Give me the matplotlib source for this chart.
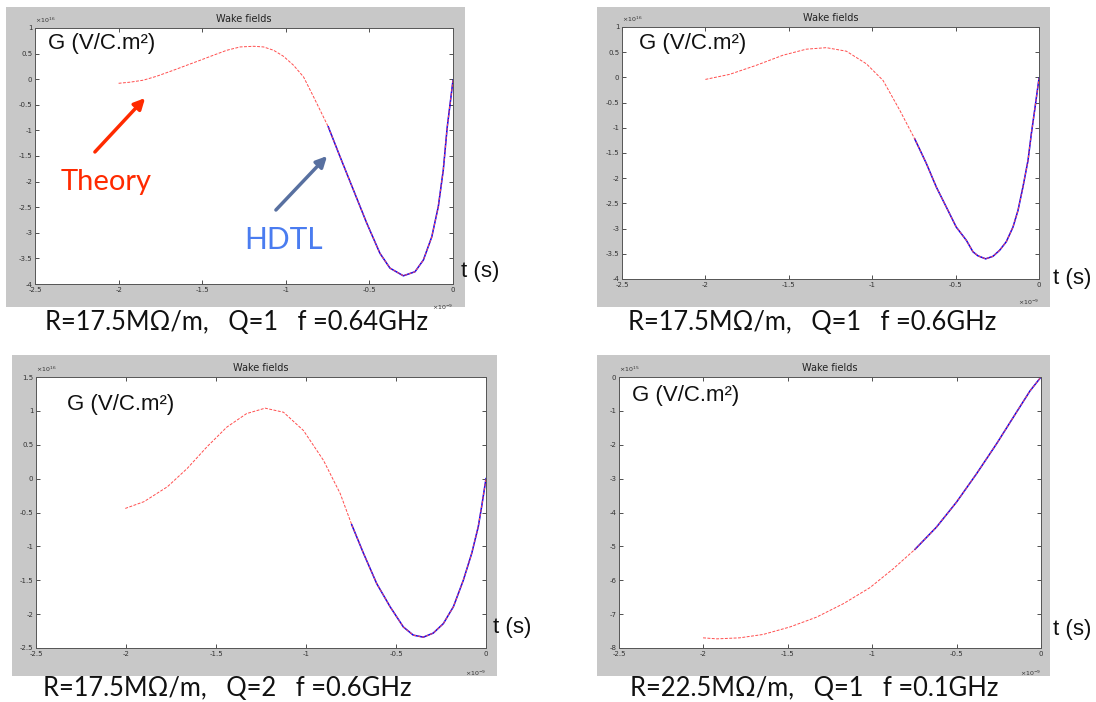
import numpy as np
import matplotlib
matplotlib.use("Agg")
import matplotlib.pyplot as plt
from matplotlib.patches import Rectangle, FancyArrowPatch

# Four MATLAB "Wake fields" screenshots: theory (red dashed) vs HDTL (blue).
# t is in units of 1e-9 s, G in units of 1e16 (1e15 for the last panel).

W, H = 1096, 702

# R=17.5MOhm/m, Q=1, f=0.64GHz
T1 = [-2.0, -1.931, -1.852, -1.772, -1.672, -1.592, -1.512, -1.433, -1.353, -1.273,
      -1.193, -1.133, -1.073, -1.014, -0.954, -0.894, -0.834, -0.746,
      -0.676, -0.596, -0.516, -0.437, -0.377, -0.297, -0.227, -0.177, -0.127,
      -0.088, -0.058, -0.035, -0.015, 0.0]
G1 = [-0.08, -0.058, -0.019, 0.058, 0.175, 0.273, 0.37, 0.468, 0.565, 0.63,
      0.643, 0.63, 0.565, 0.448, 0.273, 0.045, -0.344, -0.93,
      -1.51, -2.16, -2.81, -3.40, -3.69, -3.84, -3.76, -3.53, -3.08,
      -2.49, -1.77, -0.95, -0.42, -0.02]
HT1 = [-0.746, -0.676, -0.596, -0.516, -0.437, -0.377, -0.297, -0.227, -0.177, -0.127,
       -0.088, -0.058, -0.035, -0.015, 0.0]
HG1 = [-0.93, -1.51, -2.16, -2.81, -3.40, -3.69, -3.84, -3.76, -3.53, -3.08,
       -2.49, -1.77, -0.95, -0.42, -0.02]

# R=17.5MOhm/m, Q=1, f=0.6GHz
T2 = [-2.0, -1.855, -1.695, -1.535, -1.395, -1.275, -1.155, -1.035, -0.935, -0.835,
      -0.745, -0.675, -0.615, -0.556, -0.496, -0.436, -0.396, -0.366, -0.32, -0.276,
      -0.236, -0.196, -0.156, -0.126, -0.096, -0.066, -0.046, -0.026, 0.0]
G2 = [-0.04, 0.06, 0.24, 0.44, 0.56, 0.59, 0.52, 0.27, -0.06, -0.65,
      -1.22, -1.71, -2.18, -2.57, -2.97, -3.23, -3.46, -3.54, -3.60, -3.55,
      -3.43, -3.26, -2.97, -2.64, -2.17, -1.65, -1.12, -0.65, -0.02]
HT2 = [-0.745, -0.675, -0.615, -0.556, -0.496, -0.436, -0.396, -0.366, -0.32, -0.276,
       -0.236, -0.196, -0.156, -0.126, -0.096, -0.066, -0.046, -0.026, 0.0]
HG2 = [-1.22, -1.71, -2.18, -2.57, -2.97, -3.23, -3.46, -3.54, -3.60, -3.55,
       -3.43, -3.26, -2.97, -2.64, -2.17, -1.65, -1.12, -0.65, -0.02]

# R=17.5MOhm/m, Q=2, f=0.6GHz
T3 = [-2.004, -1.90, -1.77, -1.66, -1.55, -1.44, -1.33, -1.227, -1.125, -1.014, -0.903,
      -0.81, -0.746, -0.681, -0.607, -0.533, -0.459, -0.404, -0.348, -0.293, -0.237,
      -0.181, -0.126, -0.079, -0.043, -0.024, 0.0]
G3 = [-0.44, -0.34, -0.12, 0.15, 0.47, 0.76, 0.96, 1.04, 0.98, 0.71, 0.27,
      -0.22, -0.68, -1.10, -1.55, -1.89, -2.19, -2.31, -2.34, -2.28, -2.14,
      -1.89, -1.50, -1.10, -0.71, -0.41, 0.0]
HT3 = [-0.746, -0.681, -0.607, -0.533, -0.459, -0.404, -0.348, -0.293, -0.237,
       -0.181, -0.126, -0.079, -0.043, -0.024, 0.0]
HG3 = [-0.68, -1.10, -1.55, -1.89, -2.19, -2.31, -2.34, -2.28, -2.14,
       -1.89, -1.50, -1.10, -0.71, -0.41, 0.0]

# R=22.5MOhm/m, Q=1, f=0.1GHz
T4 = [-2.002, -1.92, -1.785, -1.646, -1.488, -1.33, -1.17, -1.014, -0.875, -0.747,
      -0.619, -0.5, -0.381, -0.263, -0.144, -0.065, 0.0]
G4 = [-7.70, -7.73, -7.70, -7.60, -7.38, -7.09, -6.69, -6.22, -5.66, -5.09,
      -4.43, -3.69, -2.85, -1.97, -1.03, -0.41, 0.0]
HT4 = [-0.747, -0.619, -0.5, -0.381, -0.263, -0.144, -0.065, 0.0]
HG4 = [-5.09, -4.43, -3.69, -2.85, -1.97, -1.03, -0.41, 0.0]

XTICKS = [-2.5, -2, -1.5, -1, -0.5, 0]
XLABELS = ["-2.5", "-2", "-1.5", "-1", "-0.5", "0"]

CAPTIONS = ["R=17.5M\u03a9/m,   Q=1   f =0.64GHz",
            "R=17.5M\u03a9/m,   Q=1   f =0.6GHz",
            "R=17.5M\u03a9/m,   Q=2   f =0.6GHz",
            "R=22.5M\u03a9/m,   Q=1   f =0.1GHz"]
EXPONENTS = ["16", "16", "16", "15"]

# pixel layout: gray box, axes box (l, t, r, b), label spots
PANELS = [
    dict(gray=(6, 7, 465, 307), ax=(35, 28, 453, 284), ylim=(-4, 1), ystep=0.5,
         g=(48, 43), ts=(461, 272), cap=(45, 323)),
    dict(gray=(597, 7, 1050, 307), ax=(622, 27, 1039, 279), ylim=(-4, 1), ystep=0.5,
         g=(639, 43), ts=(1053, 279), cap=(628, 323)),
    dict(gray=(12, 355, 497, 676), ax=(36, 377, 486, 648), ylim=(-2.5, 1.5), ystep=0.5,
         g=(67, 405), ts=(493, 628), cap=(43, 688)),
    dict(gray=(597, 355, 1050, 676), ax=(619, 377, 1041, 648), ylim=(-8, 0), ystep=1,
         g=(632, 395), ts=(1053, 630), cap=(630, 688)),
]
DATA = [(T1, G1, HT1, HG1), (T2, G2, HT2, HG2), (T3, G3, HT3, HG3), (T4, G4, HT4, HG4)]


def fx(x):
    return x / W


def fy(y):
    return 1 - y / H


fig = plt.figure(figsize=(W / 100, H / 100), dpi=100)
fig.patch.set_facecolor("white")

for p, (t, g, ht, hg), cap, ex in zip(PANELS, DATA, CAPTIONS, EXPONENTS):
    l, tp, r, b = p["gray"]
    fig.add_artist(Rectangle((fx(l), fy(b)), (r - l) / W, (b - tp) / H,
                             transform=fig.transFigure, facecolor="#c8c8c8",
                             edgecolor="none", zorder=0))
    al, at, ar, ab = p["ax"]
    ax = fig.add_axes([fx(al), fy(ab), (ar - al) / W, (ab - at) / H])
    ax.plot(ht, hg, color="#0000ff", lw=1.1, zorder=2)
    ax.plot(t, g, color="#ff4d4d", lw=0.7, dashes=(3, 1.5), zorder=3)
    ax.set_xlim(-2.5, 0)
    ax.set_ylim(*p["ylim"])
    ax.set_xticks(XTICKS)
    ax.set_xticklabels(XLABELS)
    yt = np.arange(p["ylim"][0], p["ylim"][1] + 1e-9, p["ystep"])
    ax.set_yticks(yt)
    ax.set_yticklabels([f"{v:g}" for v in yt])
    ax.tick_params(direction="in", length=3, width=0.6, labelsize=5,
                   top=True, right=True, pad=2, colors="#333333")
    for s in ax.spines.values():
        s.set_color("#555555")
        s.set_linewidth(0.7)
    ax.set_title("Wake fields", fontsize=7, pad=4, color="#222222")
    ax.text(0, 1.01, r"$\times 10^{%s}$" % ex, transform=ax.transAxes,
            fontsize=4.5, ha="left", va="bottom", color="#333333")
    ax.text(1, -0.075, r"$\times 10^{-9}$", transform=ax.transAxes,
            fontsize=4.5, ha="right", va="top", color="#333333")

    gx, gy = p["g"]
    fig.text(fx(gx), fy(gy), "G (V/C.m\u00b2)", fontsize=16,
             family="Liberation Sans", ha="left", va="center", color="#111111")
    sx, sy = p["ts"]
    fig.text(fx(sx), fy(sy), "t (s)", fontsize=16,
             family="Liberation Sans", ha="left", va="center", color="#111111")
    cx, cy = p["cap"]
    fig.text(fx(cx), fy(cy), cap, fontsize=18.4, family="Lato",
             ha="left", va="center", color="#111111")

# annotations on the first panel
fig.text(fx(61), fy(182), "Theory", fontsize=21, family="Lato",
         ha="left", va="center", color="#ff2a00")
fig.text(fx(244), fy(240), "HDTL", fontsize=21.5, family="Lato",
         ha="left", va="center", color="#4a7cf0")
fig.add_artist(FancyArrowPatch((fx(93), fy(154)), (fx(147), fy(96)),
                               transform=fig.transFigure, arrowstyle="-|>",
                               mutation_scale=16, lw=2.5, color="#ff2a00"))
fig.add_artist(FancyArrowPatch((fx(274), fy(212)), (fx(329), fy(154)),
                               transform=fig.transFigure, arrowstyle="-|>",
                               mutation_scale=16, lw=2.5, color="#5870a0"))

fig.savefig("out.png", dpi=100)
